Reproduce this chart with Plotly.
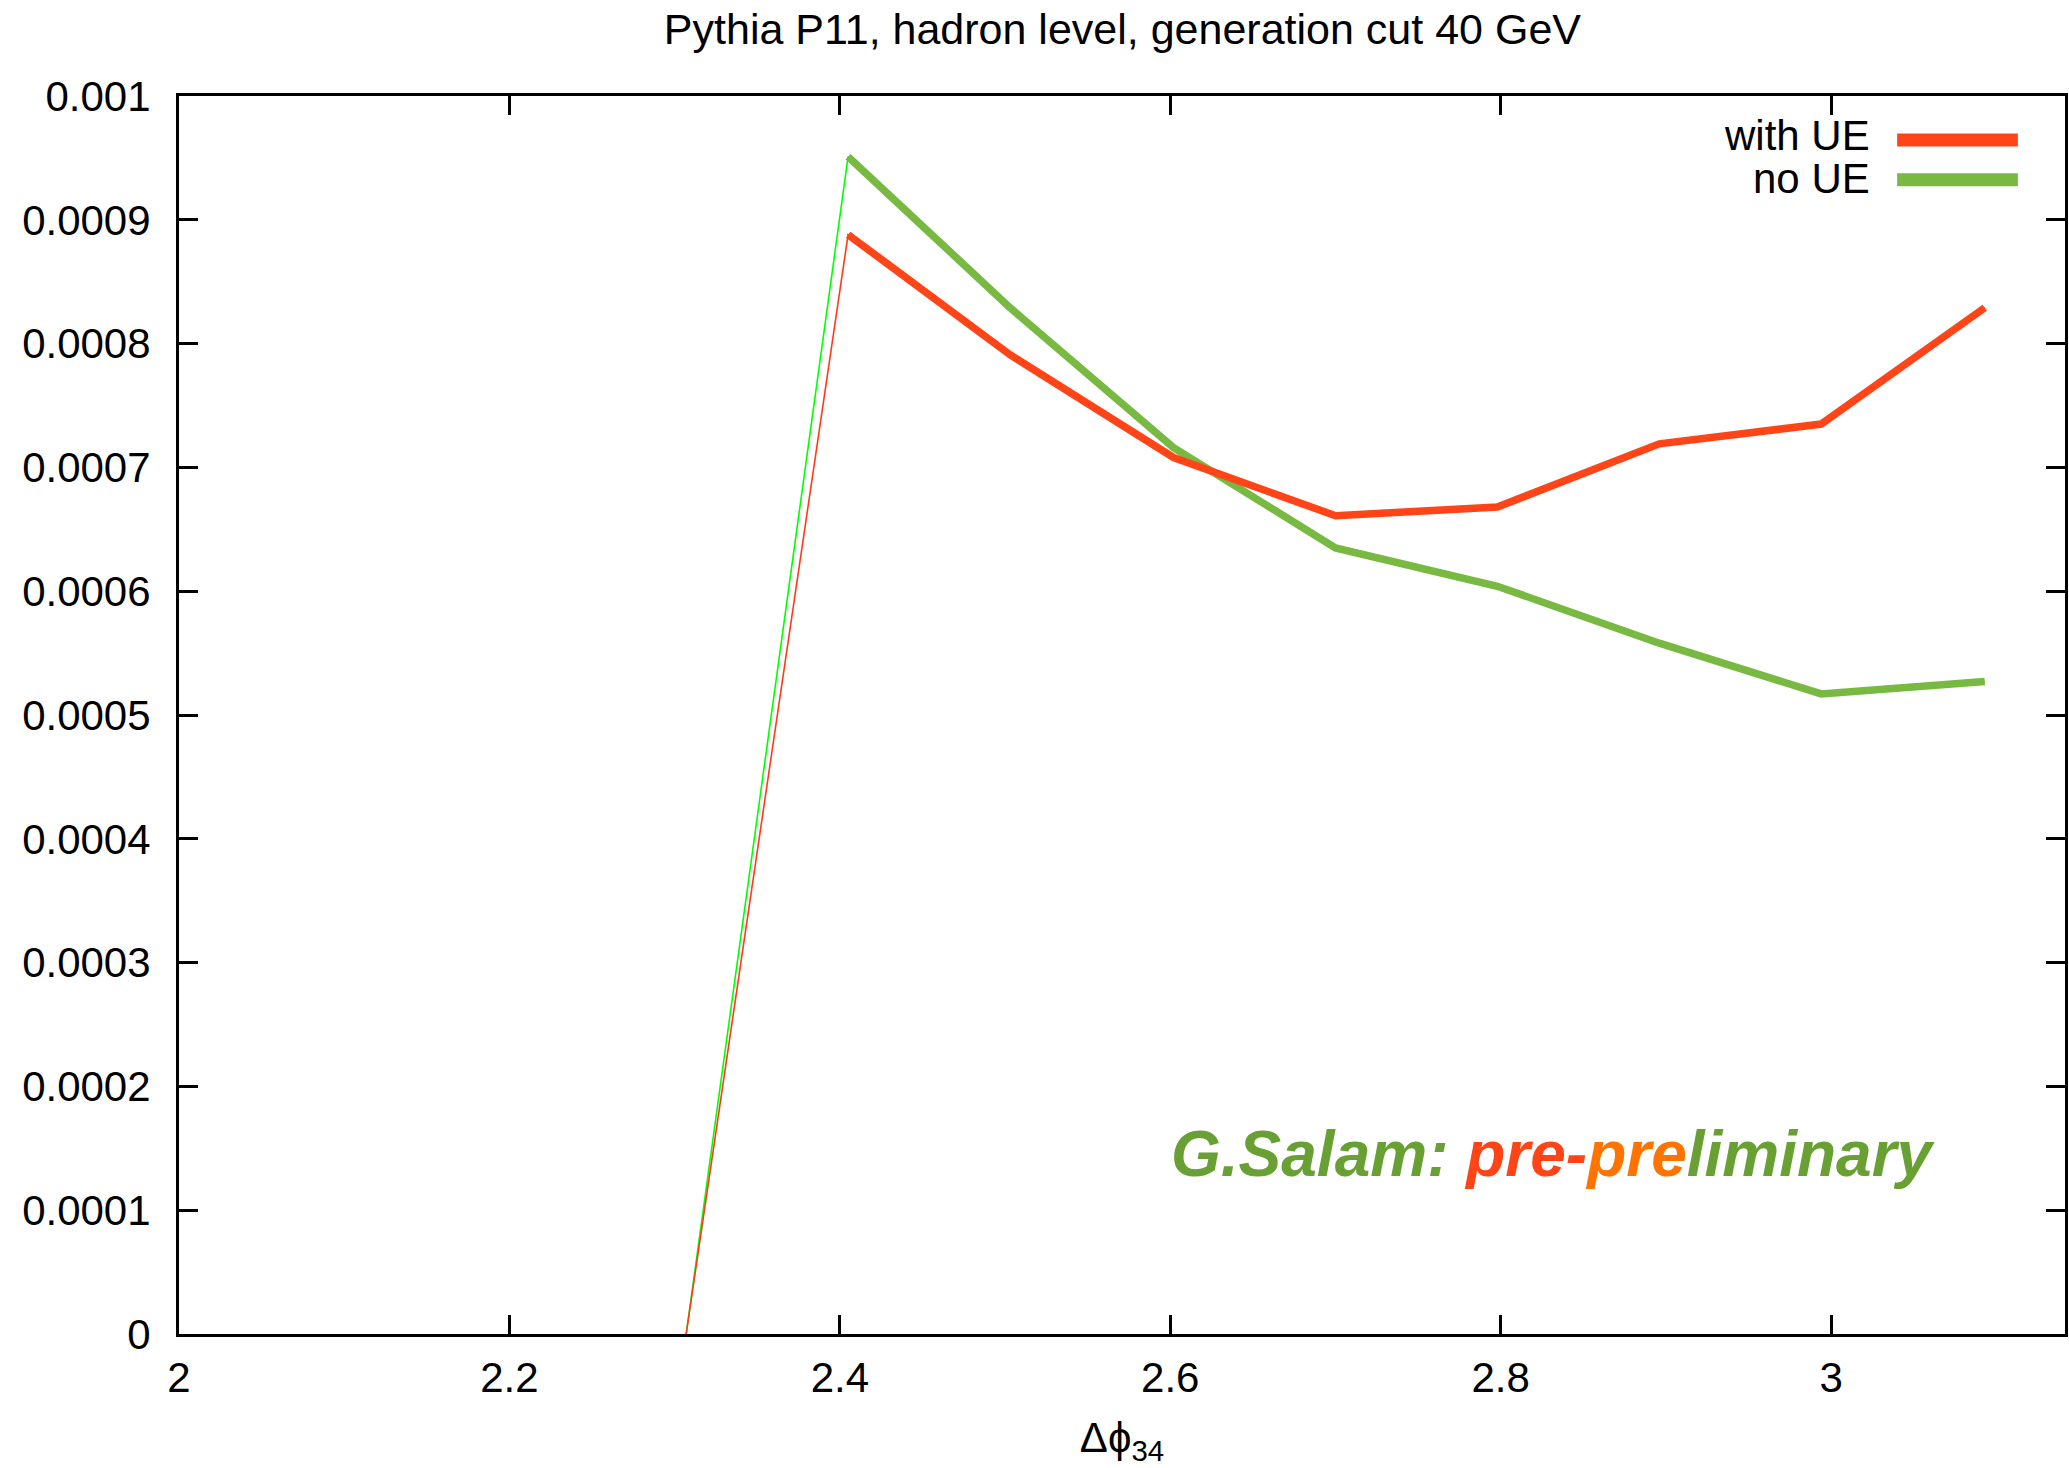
import plotly.graph_objects as go

# Data
dphi = [2.307, 2.405, 2.503, 2.602, 2.700, 2.798, 2.896, 2.994, 3.093]
with_ue = [0.0, 0.000888, 0.000791, 0.000708, 0.000661, 0.000668, 0.000719, 0.000735, 0.000829]
no_ue = [0.0, 0.000951, 0.000829, 0.000716, 0.000635, 0.000604, 0.000558, 0.000517, 0.000527]

x_ticks = [2.0, 2.2, 2.4, 2.6, 2.8, 3.0]
x_ticklabels = ["2", "2.2", "2.4", "2.6", "2.8", "3"]
y_ticks = [0.0, 0.0001, 0.0002, 0.0003, 0.0004, 0.0005, 0.0006, 0.0007, 0.0008, 0.0009, 0.001]
y_ticklabels = ["0", "0.0001", "0.0002", "0.0003", "0.0004", "0.0005", "0.0006",
                "0.0007", "0.0008", "0.0009", "0.001"]

series_names = ["with UE", "no UE"]

RED = "#ff4517"
RED_THIN = "#ff3a1a"
GREEN = "#77b941"
GREEN_THIN = "#00ff00"
TEXT_GREEN = "#68a034"
TEXT_ORANGE = "#ff7300"
FONT = "Liberation Sans, Arial, Helvetica, sans-serif"

fig = go.Figure()

# no UE: thin line through all points, thick line from the peak onwards
fig.add_trace(go.Scatter(x=dphi, y=no_ue, mode="lines",
                         line=dict(color=GREEN_THIN, width=1.6), showlegend=False))
fig.add_trace(go.Scatter(x=dphi[1:], y=no_ue[1:], mode="lines",
                         line=dict(color=GREEN, width=7.5), name=series_names[1], showlegend=False))
# with UE
fig.add_trace(go.Scatter(x=dphi, y=with_ue, mode="lines",
                         line=dict(color=RED_THIN, width=1.6), showlegend=False))
fig.add_trace(go.Scatter(x=dphi[1:], y=with_ue[1:], mode="lines",
                         line=dict(color=RED, width=7.5), name=series_names[0], showlegend=False))

# Manual legend (text left, line sample right, like gnuplot)
legend_rows = [(series_names[0], RED, 0.9686, 0.9645), (series_names[1], GREEN, 0.9335, 0.9323)]
for name, col, ytxt, yline in legend_rows:
    fig.add_annotation(x=0.8975, y=ytxt, xref="paper", yref="paper", text=name,
                       showarrow=False, xanchor="right", yanchor="middle", height=42,
                       font=dict(family=FONT, size=42, color="black"))
    fig.add_shape(type="line", xref="paper", yref="paper",
                  x0=0.9110, x1=0.9750, y0=yline, y1=yline,
                  line=dict(color=col, width=13))

# Watermark
wm = (f"<b><i><span style='color:{TEXT_GREEN}'>G.Salam: </span>"
      f"<span style='color:{RED}'>pre-</span>"
      f"<span style='color:{TEXT_ORANGE}'>pre</span>"
      f"<span style='color:{TEXT_GREEN}'>liminary</span></i></b>")
fig.add_annotation(x=0.729, y=0.145, xref="paper", yref="paper", text=wm,
                   showarrow=False, xanchor="center", yanchor="middle",
                   font=dict(family=FONT, size=64, color=TEXT_GREEN))

axis_common = dict(showline=True, linecolor="black", linewidth=3, mirror="allticks",
                   ticks="inside", ticklen=19, tickwidth=3, tickcolor="black",
                   showgrid=False, zeroline=False,
                   tickfont=dict(family=FONT, size=42, color="black"))

fig.update_layout(
    width=2069, height=1468,
    paper_bgcolor="white", plot_bgcolor="white",
    margin=dict(l=179, r=1, t=96, b=134),
    title=dict(text="Pythia P11, hadron level, generation cut 40 GeV",
               x=0.5425, xanchor="center", y=1 - 29 / 1468, yanchor="middle",
               font=dict(family=FONT, size=43, color="black")),
    xaxis=dict(range=[2.0, 3.14159], tickvals=x_ticks, ticktext=x_ticklabels,
               ticklabelstandoff=5,
               title=dict(text="Δϕ<sub>34</sub>", standoff=23,
                          font=dict(family=FONT, size=42, color="black")),
               **axis_common),
    yaxis=dict(range=[0.0, 0.001], tickvals=y_ticks, ticktext=y_ticklabels,
               ticklabelstandoff=17, **axis_common),
    showlegend=False,
)

fig.write_html("out.html", config={"displayModeBar": False},
               post_script="document.body.style.margin='0';")
